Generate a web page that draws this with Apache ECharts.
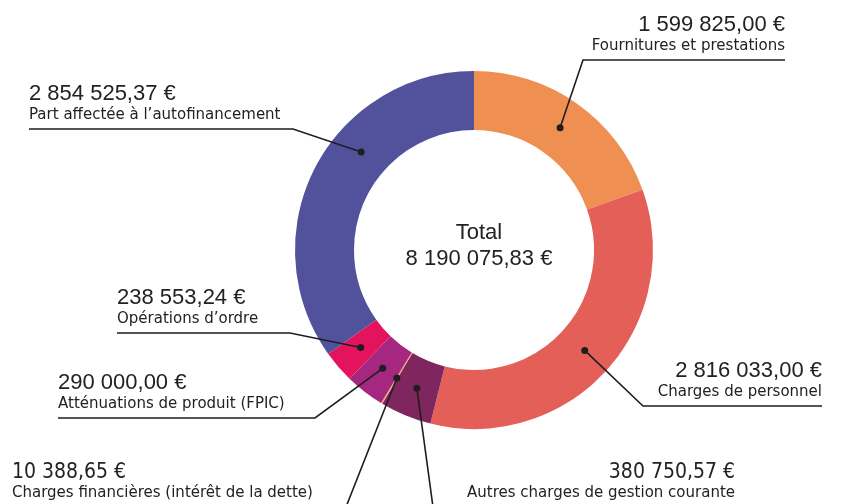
<!DOCTYPE html>
<html>
<head>
<meta charset="utf-8">
<script src="https://cdn.jsdelivr.net/npm/echarts@6/dist/echarts.min.js"></script>
<style>
  html, body { margin: 0; padding: 0; background: #fff; }
  #main { width: 842px; height: 504px; }
</style>
</head>
<body>
<div id="main"></div>
<script>
// postes de dépenses, dans l'ordre du cercle (sens horaire depuis le haut)
const categories = [
  'Fournitures et prestations',
  'Charges de personnel',
  'Autres charges de gestion courante',
  'Charges financières (intérêt de la dette)',
  'Atténuations de produit (FPIC)',
  'Opérations d’ordre',
  'Part affectée à l’autofinancement'
];
const amounts = [1599825.00, 2816033.00, 380750.57, 10388.65, 290000.00, 238553.24, 2854525.37];
const colors = ['#f08f52', '#e35f57', '#80265e', '#f2a273', '#a6277f', '#e3135e', '#52529c'];

// mise en page des étiquettes (x du texte, y du trait, x du coude)
const CX = 474, CY = 250, R_IN = 120, R_OUT = 179;
const spots = [
  { x: 785, y: 60, align: 'right', elbow: 583 },
  { x: 822, y: 406, align: 'right', elbow: 643 },
  { x: 735, y: 507, align: 'right', elbow: 433, narrow: true },
  { x: 12, y: 507, align: 'left', elbow: 346, narrow: true },
  { x: 58, y: 418, align: 'left', elbow: 315 },
  { x: 117, y: 333, align: 'left', elbow: 290 },
  { x: 29, y: 129, align: 'left', elbow: 293, angle: 311 }
];

function fmt(v) {
  const parts = v.toFixed(2).split('.');
  return parts[0].replace(/\B(?=(\d{3})+(?!\d))/g, ' ') + ',' + parts[1] + ' €';
}

const total = amounts.reduce((a, b) => a + b, 0);

// position des points : milieu de l'anneau, angle médian de la part
let acc = 0;
const dots = amounts.map((v, i) => {
  const span = v / total * 360;
  let a = acc + span / 2;
  acc += span;
  if (spots[i].angle != null) a = spots[i].angle;
  const rad = a * Math.PI / 180;
  const r = (R_IN + R_OUT) / 2;
  return [CX + r * Math.sin(rad), CY - r * Math.cos(rad)];
});

const pieData = categories.map((c, i) => ({
  name: c,
  value: amounts[i],
  itemStyle: { color: colors[i] }
}));

const chart = echarts.init(document.getElementById('main'));

const option = {
  animation: false,
  title: {
    text: 'Total\n' + fmt(total),
    left: CX,
    top: CY - 35,
    textAlign: 'center',
    textStyle: {
      fontFamily: 'Liberation Sans',
      fontSize: 22,
      fontWeight: 'normal',
      color: '#222',
      lineHeight: 26
    }
  },
  series: [
    {
      // anneau
      type: 'pie',
      center: [CX, CY],
      radius: [R_IN, R_OUT],
      startAngle: 90,
      clockwise: true,
      silent: true,
      z: 2,
      data: pieData,
      label: { show: false },
      labelLine: { show: false }
    },
    {
      // calque transparent qui porte les étiquettes au-dessus de l'anneau
      type: 'pie',
      center: [CX, CY],
      radius: [R_IN, R_OUT],
      startAngle: 90,
      clockwise: true,
      silent: true,
      avoidLabelOverlap: false,
      z: 5,
      data: pieData.map((d) => ({ name: d.name, value: d.value })),
      itemStyle: { color: 'rgba(0,0,0,0)' },
      label: {
        show: true,
        formatter: (p) => {
          const s = spots[p.dataIndex];
          return '{' + (s.narrow ? 'vn' : 'v') + '|' + fmt(p.value) + '}\n{n|' + p.name + '}';
        },
        rich: {
          v: { fontFamily: 'Liberation Sans', fontSize: 22, lineHeight: 25, color: '#222' },
          vn: { fontFamily: "'DejaVu Sans Condensed', 'Liberation Sans'", fontSize: 21, lineHeight: 22, color: '#222' },
          n: { fontFamily: 'DejaVu Sans', fontSize: 15, lineHeight: 19, color: '#222' }
        }
      },
      labelLine: {
        show: true,
        lineStyle: { color: '#1e1e1e', width: 1.6 }
      },
      labelLayout: (params) => {
        const s = spots[params.dataIndex];
        return {
          x: s.x,
          y: s.y - 4,
          align: s.align,
          verticalAlign: 'bottom',
          labelLinePoints: [dots[params.dataIndex], [s.elbow, s.y], [s.x, s.y]]
        };
      }
    }
  ],
  graphic: dots.map((d) => ({
    type: 'circle',
    z: 100,
    shape: { cx: d[0], cy: d[1], r: 3.5 },
    style: { fill: '#1e1e1e' }
  }))
};

chart.setOption(option);
</script>
</body>
</html>
